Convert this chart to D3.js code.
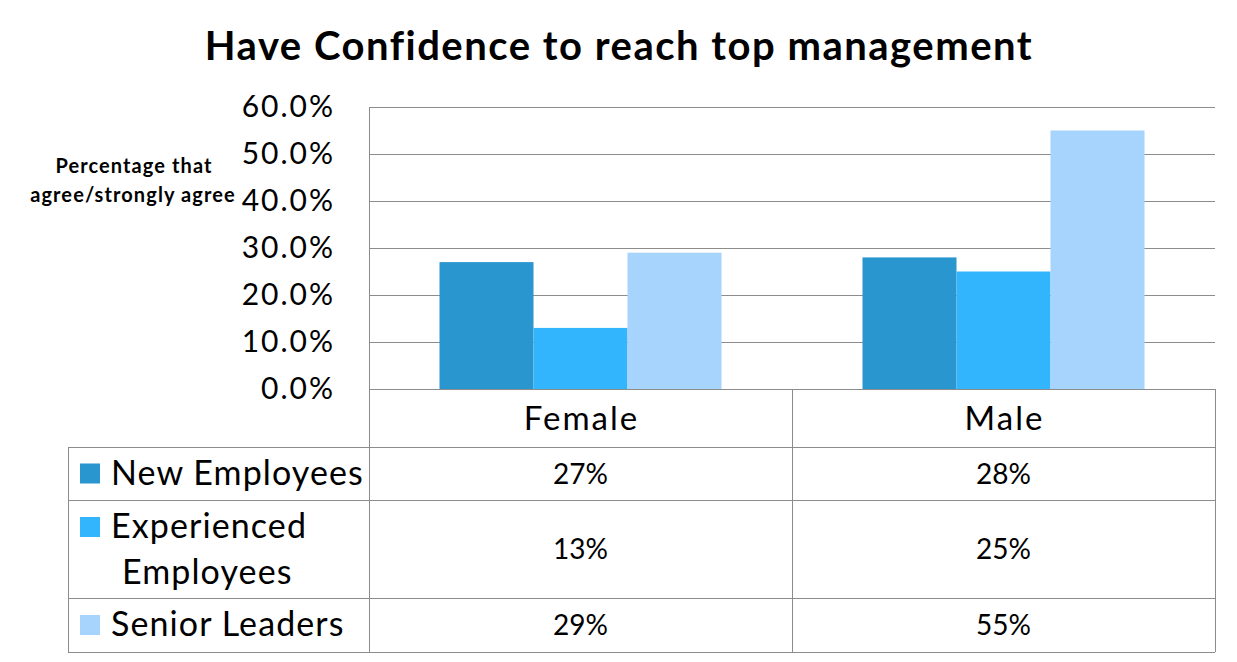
<!DOCTYPE html>
<html><head><meta charset="utf-8">
<script src="https://cdn.jsdelivr.net/npm/d3@7/dist/d3.min.js"></script>
<style>body{margin:0;background:#fff;}svg{display:block;font-family:Lato,"Open Sans",sans-serif;}</style>
</head><body>
<svg id="c" width="1237" height="662"></svg>
<script>
const categories = ["Female", "Male"];
const seriesNames = ["New Employees", "Experienced Employees", "Senior Leaders"];
const newEmployees = [27, 28];
const experiencedEmployees = [13, 25];
const seniorLeaders = [29, 55];
const yTicks = [0, 10, 20, 30, 40, 50, 60];
const colors = ["#2A96D0", "#33B5FE", "#A6D4FC"];
const seriesValues = [newEmployees, experiencedEmployees, seniorLeaders];

const svg = d3.select("#c");
const L = 369, R = 1215, T = 107, B = 389;
const x0 = d3.scaleBand().domain(categories).range([L, R]).paddingInner(0).paddingOuter(0);
const x1 = d3.scaleBand().domain(seriesNames).range([0, x0.bandwidth()]).paddingInner(0).paddingOuter(0.75);
const y = d3.scaleLinear().domain([0, 60]).range([B, T]);

// title
svg.append("text").attr("x", 619).attr("y", 60).attr("text-anchor", "middle")
  .attr("font-size", 40).attr("font-weight", "bold").attr("letter-spacing", 1.5).attr("fill", "#000")
  .text("Have Confidence to reach top management");

// gridlines
svg.append("g").selectAll("line").data(yTicks).join("line")
  .attr("x1", L).attr("x2", R).attr("y1", d => y(d)).attr("y2", d => y(d))
  .attr("stroke", "#8c8c8c").attr("stroke-width", 1).attr("shape-rendering", "crispEdges");
svg.append("line").attr("x1", L).attr("x2", L).attr("y1", T).attr("y2", B)
  .attr("stroke", "#8c8c8c").attr("shape-rendering", "crispEdges");

// y axis labels
const yAxis = d3.axisLeft(y).tickValues(yTicks).tickSize(0).tickPadding(0).tickFormat(d => d.toFixed(1) + "%");
const ga = svg.append("g").attr("transform", `translate(335,0)`).call(yAxis);
ga.select(".domain").remove();
ga.selectAll("text").attr("font-size", 30).attr("letter-spacing", 2).attr("fill", "#000").attr("font-family", "Lato, sans-serif");

// y title
const yt = svg.append("text").attr("text-anchor", "middle").attr("font-size", 20).attr("font-weight", "bold")
  .attr("letter-spacing", 1.1).attr("fill", "#000");
yt.append("tspan").attr("x", 134).attr("y", 173).text("Percentage that");
yt.append("tspan").attr("x", 133).attr("y", 202).text("agree/strongly agree");

// bars
const gb = svg.append("g");
categories.forEach((c, ci) => {
  seriesNames.forEach((s, si) => {
    const v = seriesValues[si][ci];
    gb.append("rect").attr("x", x0(c) + x1(s)).attr("width", x1.bandwidth())
      .attr("y", y(v)).attr("height", y(0) - y(v)).attr("fill", colors[si]);
  });
});

// data table
const rowTops = [389, 447, 500, 598, 652];
const tableLeft = 68;
const lineColor = "#8c8c8c";
const gt = svg.append("g");
function hline(x1_, x2_, yy) {
  gt.append("line").attr("x1", x1_).attr("x2", x2_).attr("y1", yy).attr("y2", yy)
    .attr("stroke", lineColor).attr("shape-rendering", "crispEdges");
}
function vline(xx, y1_, y2_) {
  gt.append("line").attr("x1", xx).attr("x2", xx).attr("y1", y1_).attr("y2", y2_)
    .attr("stroke", lineColor).attr("shape-rendering", "crispEdges");
}
hline(tableLeft, R, rowTops[1]);
hline(tableLeft, R, rowTops[2]);
hline(tableLeft, R, rowTops[3]);
hline(tableLeft, R, rowTops[4]);
vline(tableLeft, rowTops[1], rowTops[4]);
vline(L, rowTops[0], rowTops[4]);
vline(x0("Male"), rowTops[0], rowTops[4]);
vline(R, rowTops[0], rowTops[4]);

// header
categories.forEach(c => {
  gt.append("text").attr("x", x0(c) + x0.bandwidth() / 2 + 1).attr("y", 430)
    .attr("text-anchor", "middle").attr("font-size", 33).attr("letter-spacing", 2).attr("fill", "#000").text(c);
});

// rows
const legendLines = [["New Employees"], ["Experienced", "Employees"], ["Senior Leaders"]];
seriesNames.forEach((s, si) => {
  const top = rowTops[si + 1], bot = rowTops[si + 2];
  const mid = (top + bot) / 2;
  const lines = legendLines[si];
  const firstY = lines.length === 1 ? mid : mid - 22;
  gt.append("rect").attr("x", 80).attr("y", firstY - 10).attr("width", 20).attr("height", 20).attr("fill", colors[si]);
  lines.forEach((ln, li) => {
    gt.append("text").attr("x", li === 0 ? 111 : 122).attr("y", firstY + li * 46 + 11)
      .attr("font-size", 34).attr("letter-spacing", 1.1).attr("fill", "#000").text(ln);
  });
  categories.forEach((c, ci) => {
    gt.append("text").attr("x", x0(c) + x0.bandwidth() / 2).attr("y", mid + 10)
      .attr("text-anchor", "middle").attr("font-size", 28).attr("fill", "#000")
      .text(seriesValues[si][ci] + "%");
  });
});
</script>
</body></html>
